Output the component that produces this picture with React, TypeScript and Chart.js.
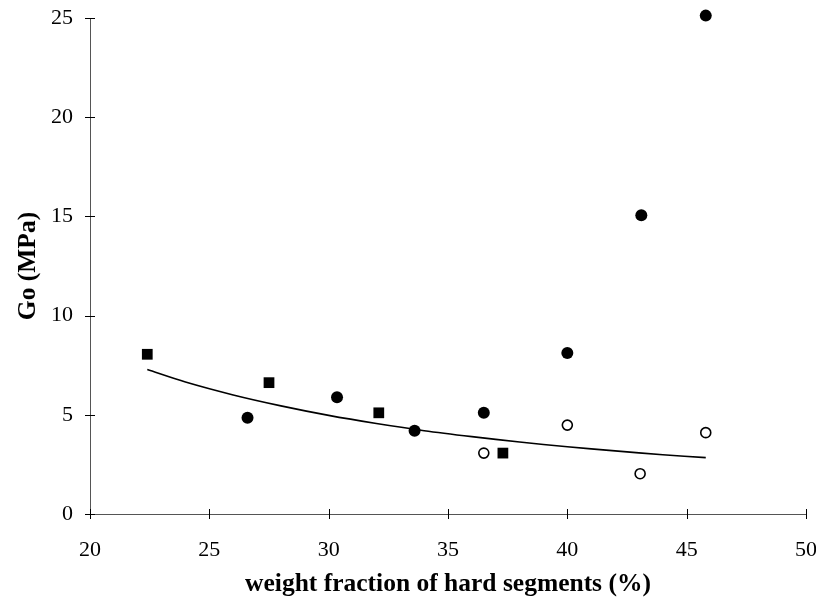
import React, { useEffect, useRef } from "react";
import { Chart, registerables } from "chart.js";

Chart.register(...registerables);

const squareX = [22.4, 27.5, 32.1, 37.3];
const squareY = [8.05, 6.62, 5.1, 3.07];

const filledX = [26.6, 30.35, 33.6, 36.5, 40.0, 43.1, 45.8];
const filledY = [4.85, 5.88, 4.2, 5.1, 8.12, 15.06, 25.12];

const openX = [36.5, 40.0, 43.05, 45.8];
const openY = [3.07, 4.48, 2.03, 4.1];

const fitX = [22.4, 24, 26, 28, 30, 32, 34, 36, 38, 40, 42, 44, 45.8];
const fitY = [7.28, 6.65, 6.0, 5.45, 4.97, 4.56, 4.2, 3.9, 3.63, 3.39, 3.18, 2.99, 2.84];

const xTicks = [20, 25, 30, 35, 40, 45, 50];
const yTicks = [0, 5, 10, 15, 20, 25];

const xTitle = "weight fraction of hard segments (%)";
const yTitle = "Go (MPa)";

const FONT = "'Liberation Serif', 'Times New Roman', serif";

const pts = (xs: number[], ys: number[]) => xs.map((x, i) => ({ x, y: ys[i] }));

const crossTicks = {
  id: "crossTicks",
  afterDatasetsDraw(chart: any) {
    const { ctx, chartArea, scales } = chart;
    const xs = scales.x;
    const ys = scales.y;
    ctx.save();
    ctx.strokeStyle = "#000";
    ctx.lineWidth = 1;
    xTicks.forEach((v) => {
      const px = Math.round(xs.getPixelForValue(v)) + 0.5;
      ctx.beginPath();
      ctx.moveTo(px, chartArea.bottom - 5);
      ctx.lineTo(px, chartArea.bottom + 5);
      ctx.stroke();
    });
    yTicks.forEach((v) => {
      const py = Math.round(ys.getPixelForValue(v)) + 0.5;
      ctx.beginPath();
      ctx.moveTo(chartArea.left - 5, py);
      ctx.lineTo(chartArea.left + 5, py);
      ctx.stroke();
    });
    ctx.restore();
  },
};

export default function App() {
  const ref = useRef<HTMLCanvasElement | null>(null);
  useEffect(() => {
    if (!ref.current) return;
    const chart = new Chart(ref.current, {
      type: "scatter",
      data: {
        datasets: [
          {
            label: "fit",
            data: pts(fitX, fitY),
            showLine: true,
            borderColor: "#000",
            borderWidth: 1.6,
            pointRadius: 0,
            tension: 0.3,
            order: 2,
            clip: false,
          },
          {
            label: "squares",
            data: pts(squareX, squareY),
            pointStyle: "rect",
            pointRadius: 7.6,
            backgroundColor: "#000",
            borderColor: "#000",
            borderWidth: 0,
            order: 1,
            clip: false,
          },
          {
            label: "filled",
            data: pts(filledX, filledY),
            pointStyle: "circle",
            pointRadius: 6,
            backgroundColor: "#000",
            borderColor: "#000",
            borderWidth: 0,
            order: 1,
            clip: false,
          },
          {
            label: "open",
            data: pts(openX, openY),
            pointStyle: "circle",
            pointRadius: 5,
            backgroundColor: "#fff",
            borderColor: "#000",
            borderWidth: 1.6,
            order: 1,
            clip: false,
          },
        ] as any,
      },
      options: {
        animation: false,
        responsive: true,
        maintainAspectRatio: false,
        layout: { padding: { top: 18, right: 10, left: 0, bottom: 0 } },
        plugins: {
          legend: { display: false },
          tooltip: { enabled: false },
        },
        scales: {
          x: {
            type: "linear",
            min: 20,
            max: 50,
            afterBuildTicks: (s: any) => {
              s.ticks = xTicks.map((v) => ({ value: v }));
            },
            afterFit: (s: any) => {
              s.height = 85;
              s.paddingLeft = 0;
              s.paddingRight = 0;
            },
            grid: { display: false },
            border: { display: true, color: "#555", width: 1 },
            ticks: {
              color: "#000",
              padding: 15,
              font: { family: FONT, size: 22 },
            },
            title: {
              display: true,
              text: xTitle,
              color: "#000",
              font: { family: FONT, size: 25.5, weight: "bold" },
              padding: { top: 0, bottom: -1 },
            },
          },
          y: {
            type: "linear",
            min: 0,
            max: 25,
            afterBuildTicks: (s: any) => {
              s.ticks = yTicks.map((v) => ({ value: v }));
            },
            afterFit: (s: any) => {
              s.width = 90;
              s.paddingTop = 0;
              s.paddingBottom = 0;
            },
            grid: { display: false },
            border: { display: true, color: "#555", width: 1 },
            ticks: {
              color: "#000",
              padding: 9,
              font: { family: FONT, size: 22 },
            },
            title: {
              display: true,
              text: yTitle,
              color: "#000",
              font: { family: FONT, size: 25.5, weight: "bold" },
              padding: { top: 13, bottom: 0 },
            },
          },
        },
      },
      plugins: [crossTicks],
    });
    return () => chart.destroy();
  }, []);

  return (
    <div style={{ position: "absolute", left: 0, top: 0, width: 816, height: 599, background: "#fff" }}>
      <canvas ref={ref} />
    </div>
  );
}
